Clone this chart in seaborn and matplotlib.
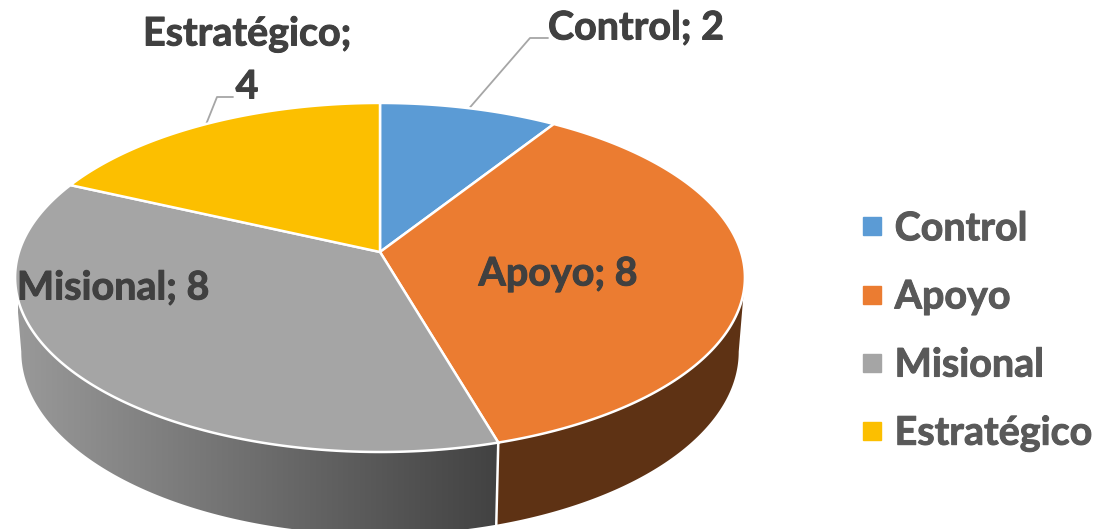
import numpy as np
import matplotlib
matplotlib.use("Agg")
import matplotlib.pyplot as plt
import matplotlib.patheffects as pe
from matplotlib.lines import Line2D
from matplotlib.patches import Polygon
import seaborn as sns

categories = ["Control", "Apoyo", "Misional", "Estratégico"]
values = [2, 8, 8, 4]
colors = ["#5B9BD5", "#EB7C31", "#A5A5A5", "#FCBF00"]

# centre of the pie and perspective of the top face, in pixels
cx, cy = 380, 252
rx, ry, persp = 361, 170.8, 0.146
# bottom face is shifted and scaled a bit
depth, sx, sy = 73, 0.983, 1.048


def top_face(theta):
    s, c = np.sin(theta), np.cos(theta)
    d = 1 + persp * c
    return cx + rx * s / d, cy - ry * c / d


def bottom_face(theta):
    x, y = top_face(theta)
    return cx + sx * (x - cx), cy + depth + sy * (y - cy)


def wall_outline(lo, hi):
    t = np.linspace(lo, hi, 200)
    xt, yt = top_face(t)
    xb, yb = bottom_face(t)
    return np.c_[np.r_[xt, xb[::-1]], np.r_[yt, yb[::-1]]]


sns.set_theme(style="white")
plt.rcParams["font.family"] = ["Lato", "DejaVu Sans"]
plt.rcParams["font.weight"] = "bold"

fig, ax = plt.subplots(figsize=(10.93, 5.29), dpi=100)
ax.set_position([0, 0, 1, 1])

edges = np.radians(np.cumsum([0] + values) / sum(values) * 360)
mids = (edges[:-1] + edges[1:]) / 2

# side walls run between the two points where the rim is widest
wall_from = np.arccos(-persp)
wall_to = 2 * np.pi - wall_from

brown = Polygon(wall_outline(wall_from, edges[2]),
                facecolor="#5E3214", edgecolor="none", zorder=1)
ax.add_patch(brown)

gray_ramp = sns.blend_palette(["#999999", "#424242"], as_cmap=True)
gray = Polygon(wall_outline(edges[2], wall_to),
               facecolor="none", edgecolor="none", zorder=1)
ax.add_patch(gray)
ramp = ax.imshow(np.linspace(0, 1, 256).reshape(1, -1), cmap=gray_ramp,
                 extent=(18, 498, 529, 250), aspect="auto", zorder=1)
ramp.set_clip_path(gray)

# white seam between the two walls
sx0, sy0 = top_face(edges[2])
sx1, sy1 = bottom_face(edges[2])
ax.plot([sx0, sx1], [sy0, sy1], color="white", lw=1.8, zorder=2)

# top face
for i, col in enumerate(colors):
    t = np.linspace(edges[i], edges[i + 1], 200)
    x, y = top_face(t)
    ax.fill(np.r_[cx, x], np.r_[cy, y], facecolor=col, edgecolor="white",
            lw=1.8, joinstyle="miter", zorder=3)

# data labels
label_color = "#404040"
label_size = 28.4
heavier = [pe.withStroke(linewidth=0.7, foreground=label_color)]
label_texts = [
    (636, 28, f"{categories[0]}; {values[0]}"),
    (247, 34, f"{categories[3]};"),
    (247, 87, f"{values[3]}"),
    (558, 274, f"{categories[1]}; {values[1]}"),
    (113, 288, f"{categories[2]}; {values[2]}"),
]
for x, y, s in label_texts:
    ax.text(x, y, s, color=label_color, fontsize=label_size, ha="center",
            va="center", zorder=5, path_effects=heavier)

# leader lines
lx, ly = top_face(mids[0])
ax.plot([lx, 530, 548], [ly, 38, 38], color="#A6A6A6", lw=1.3, zorder=2.5)
lx, ly = top_face(mids[3])
ax.plot([lx, 217, 233], [ly, 97, 97], color="#A6A6A6", lw=1.3, zorder=2.5)

handles = [Line2D([], [], ls="none", marker="s", ms=13, color=c) for c in colors]
leg = ax.legend(handles, categories, loc="center left",
                bbox_to_anchor=(852.4 / 1093, 1 - 331 / 529),
                bbox_transform=ax.transAxes, frameon=False,
                fontsize=label_size, labelcolor="#595959",
                labelspacing=0.84, handlelength=1.0, handletextpad=0.07,
                borderpad=0, borderaxespad=0)
for txt in leg.get_texts():
    txt.set_path_effects([pe.withStroke(linewidth=0.7, foreground="#595959")])

ax.set_xlim(0, 1093)
ax.set_ylim(529, 0)
ax.axis("off")

fig.savefig("out.png", dpi=100)
